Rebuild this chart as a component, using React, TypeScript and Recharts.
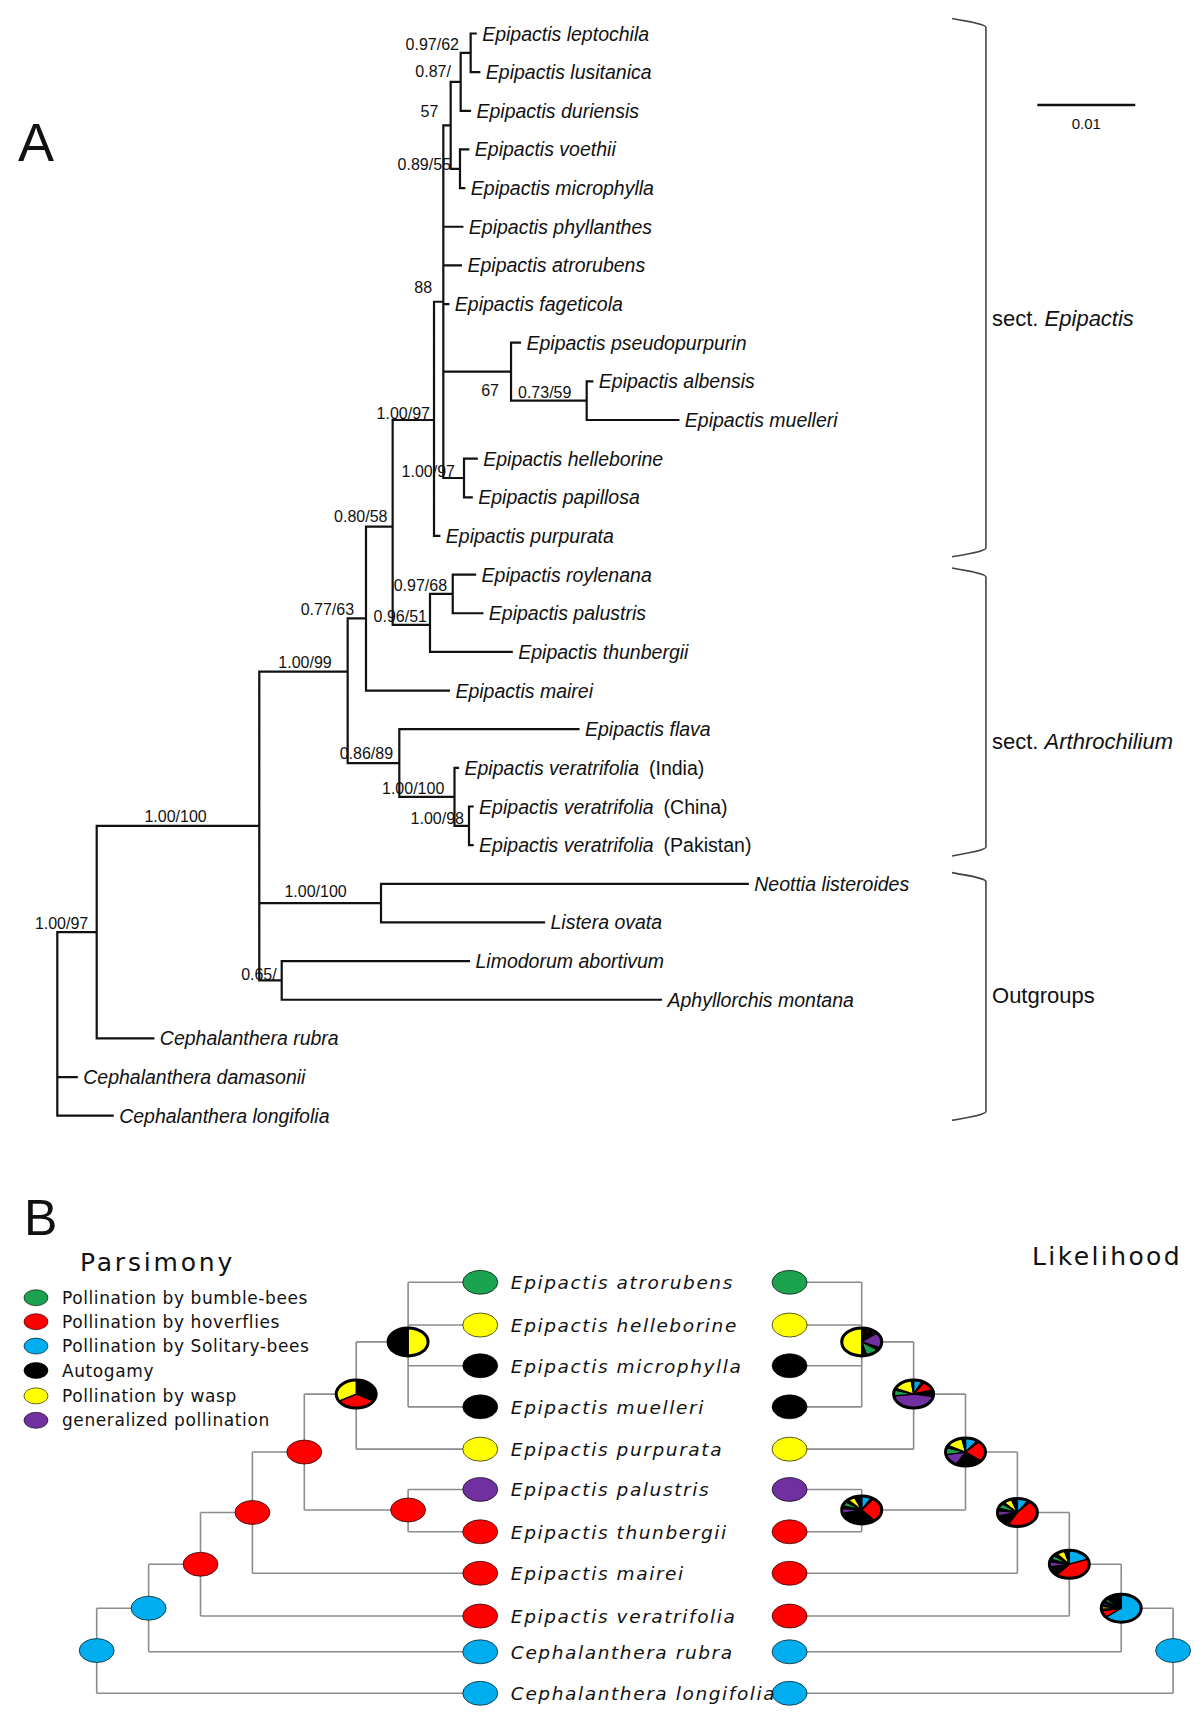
import React from "react";
import { ComposedChart, XAxis, YAxis, Line, Scatter } from "recharts";

// ---------- Panel A: phylogram ----------
const tipNames = [
  "Epipactis leptochila", "Epipactis lusitanica", "Epipactis duriensis", "Epipactis voethii",
  "Epipactis microphylla", "Epipactis phyllanthes", "Epipactis atrorubens", "Epipactis fageticola",
  "Epipactis pseudopurpurin", "Epipactis albensis", "Epipactis muelleri", "Epipactis helleborine",
  "Epipactis papillosa", "Epipactis purpurata", "Epipactis roylenana", "Epipactis palustris",
  "Epipactis thunbergii", "Epipactis mairei", "Epipactis flava", "Epipactis veratrifolia",
  "Epipactis veratrifolia", "Epipactis veratrifolia", "Neottia listeroides", "Listera ovata",
  "Limodorum abortivum", "Aphyllorchis montana", "Cephalanthera rubra", "Cephalanthera damasonii",
  "Cephalanthera longifolia",
];
const tipSuffix: Record<number, string> = { 19: "(India)", 20: "(China)", 21: "(Pakistan)" };
const tipParents = [
  "N14", "N14", "N13", "N15", "N15", "N9", "N9", "N9", "N11", "N16", "N16", "N12", "N12", "N6",
  "N8", "N8", "N7", "N4", "NF", "NV1", "NV2", "NV2", "NL", "NL", "NA", "NA", "N1", "root", "root",
];
// tip depth (substitutions/site)
const tipDepths = [
  0.04269, 0.04306, 0.04211, 0.04194, 0.04153, 0.04133, 0.04119, 0.0399, 0.04721, 0.05459,
  0.06337, 0.0428, 0.04229, 0.03898, 0.04263, 0.04337, 0.04637, 0.03996, 0.05318, 0.04089,
  0.04238, 0.04238, 0.07045, 0.04966, 0.04201, 0.0616, 0.0098, 0.00198, 0.00565,
];
const innerNodes = [
  { id: "N1", parent: "root", x: 0.00402, y: 23.25 },
  { id: "N2", parent: "N1", x: 0.02061, y: 20.5 },
  { id: "N3", parent: "N2", x: 0.02963, y: 16.51 },
  { id: "N4", parent: "N3", x: 0.0315, y: 15.13 },
  { id: "N5", parent: "N4", x: 0.03422, y: 12.76 },
  { id: "N6", parent: "N5", x: 0.03844, y: 10.0 },
  { id: "N9", parent: "N6", x: 0.03939, y: 6.94 },
  { id: "N10", parent: "N9", x: 0.04014, y: 2.375 },
  { id: "N13", parent: "N10", x: 0.04116, y: 1.25 },
  { id: "N14", parent: "N13", x: 0.04218, y: 0.5 },
  { id: "N15", parent: "N10", x: 0.04109, y: 3.5 },
  { id: "N11", parent: "N9", x: 0.0463, y: 8.75 },
  { id: "N16", parent: "N11", x: 0.05402, y: 9.5 },
  { id: "N12", parent: "N9", x: 0.0415, y: 11.5 },
  { id: "N7", parent: "N5", x: 0.03803, y: 15.3 },
  { id: "N8", parent: "N7", x: 0.04035, y: 14.5 },
  { id: "NF", parent: "N3", x: 0.0349, y: 18.875 },
  { id: "NV1", parent: "NF", x: 0.04053, y: 19.75 },
  { id: "NV2", parent: "NV1", x: 0.04201, y: 20.5 },
  { id: "NL", parent: "N2", x: 0.03303, y: 22.5 },
  { id: "NA", parent: "N2", x: 0.0229, y: 24.5 },
];
// support values: text end (or start) position in tree units
const supports = [
  { text: "0.97/62", x: 0.04099, y: 0.427 },
  { text: "0.87/", x: 0.04017, y: 1.126 },
  { text: "57", x: 0.03888, y: 2.173 },
  { text: "0.89/55", x: 0.04017, y: 3.532 },
  { text: "88", x: 0.03824, y: 6.714 },
  { text: "1.00/97", x: 0.03803, y: 9.974 },
  { text: "67", x: 0.04507, y: 9.379 },
  { text: "0.73/59", x: 0.04701, y: 9.43, start: true },
  { text: "1.00/97", x: 0.04058, y: 11.475 },
  { text: "0.80/58", x: 0.03369, y: 12.639 },
  { text: "0.97/68", x: 0.03977, y: 14.424 },
  { text: "0.96/51", x: 0.03772, y: 15.226 },
  { text: "0.77/63", x: 0.03028, y: 15.045 },
  { text: "1.00/99", x: 0.028, y: 16.416 },
  { text: "0.86/89", x: 0.03426, y: 18.771 },
  { text: "1.00/100", x: 0.03949, y: 19.664 },
  { text: "1.00/98", x: 0.0415, y: 20.453 },
  { text: "1.00/100", x: 0.01525, y: 20.388 },
  { text: "1.00/100", x: 0.02953, y: 22.354 },
  { text: "0.65/", x: 0.02239, y: 24.489 },
  { text: "1.00/97", x: 0.00316, y: 23.169 },
];
const clades = [
  { prefix: "sect. ", name: "Epipactis", top: -0.388, bottom: 13.54, labelRow: 7.36 },
  { prefix: "sect. ", name: "Arthrochilium", top: 13.83, bottom: 21.28, labelRow: 18.31 },
  { prefix: "", name: "Outgroups", top: 21.71, bottom: 28.12, labelRow: 24.87, plain: true },
];
const scaleBar = { from: 0.1, to: 0.11, row: 1.85, labelRow: 2.32, label: "0.01" };

// ---------- Panel B: pollination reconstruction ----------
const bLeafNames = [
  "Epipactis atrorubens", "Epipactis helleborine", "Epipactis microphylla", "Epipactis muelleri",
  "Epipactis purpurata", "Epipactis palustris", "Epipactis thunbergii", "Epipactis mairei",
  "Epipactis veratrifolia", "Cephalanthera rubra", "Cephalanthera longifolia",
];
const bLeafRows = [0, 1.04, 2.03, 3.03, 4.06, 5.04, 6.07, 7.08, 8.12, 8.99, 10];
const bLeafStates = ["bumble", "wasp", "auto", "auto", "wasp", "general", "hover", "hover", "hover", "solitary", "solitary"];
const bLeafParents = ["P1", "P1", "P1", "P1", "P2", "P4", "P4", "P5", "P6", "P7", "P8"];
const bNodes = [
  { id: "P1", parent: "P2", level: 6, row: 1.45 },
  { id: "P2", parent: "P3", level: 5, row: 2.72 },
  { id: "P3", parent: "P5", level: 4, row: 4.13 },
  { id: "P4", parent: "P3", level: 6, row: 5.54 },
  { id: "P5", parent: "P6", level: 3, row: 5.6 },
  { id: "P6", parent: "P7", level: 2, row: 6.86 },
  { id: "P7", parent: "P8", level: 1, row: 7.93 },
  { id: "P8", parent: null, level: 0, row: 8.96 },
];
const LEAF_LEVEL = 7.39;
const MIRROR = 20.74;

const stateColors: Record<string, string> = {
  bumble: "#1BA34F",
  hover: "#FF0000",
  solitary: "#00AEEF",
  auto: "#000000",
  wasp: "#FFFF00",
  general: "#7030A0",
};
const legendKeys = ["bumble", "hover", "solitary", "auto", "wasp", "general"];
const legendLabels = [
  "Pollination by bumble-bees", "Pollination by hoverflies", "Pollination by Solitary-bees",
  "Autogamy", "Pollination by wasp", "generalized pollination",
];
const legendRows = [0.375, 0.959, 1.552, 2.146, 2.764, 3.358];

// parsimony states at internal nodes
const parsP1 = [["wasp", 50], ["auto", 50]];
const parsP2 = [["auto", 1], ["hover", 1], ["wasp", 1]];
const parsStates: Record<string, any> = {
  P1: parsP1, P2: parsP2, P3: "hover", P4: "hover", P5: "hover", P6: "hover", P7: "solitary", P8: "solitary",
};
// likelihood proportions, clockwise from 12 o'clock
const mlL1 = [["auto", 5], ["hover", 2], ["auto", 7], ["general", 18], ["auto", 3], ["bumble", 11], ["auto", 4], ["wasp", 50]];
const mlL2 = [["solitary", 7], ["auto", 2], ["hover", 11], ["auto", 8], ["general", 45], ["bumble", 7], ["auto", 2], ["wasp", 16], ["auto", 2]];
const mlL3 = [["solitary", 10], ["auto", 2], ["hover", 24], ["auto", 22], ["general", 14], ["bumble", 8], ["auto", 3], ["wasp", 14], ["auto", 3]];
const mlL4 = [["solitary", 8], ["auto", 2], ["hover", 29], ["auto", 32], ["general", 6], ["auto", 3], ["bumble", 5], ["auto", 3], ["wasp", 6], ["auto", 6]];
const mlL5 = [["solitary", 9], ["auto", 2], ["hover", 47], ["auto", 13], ["general", 6], ["auto", 3], ["bumble", 6], ["auto", 2], ["wasp", 7], ["auto", 5]];
const mlL6 = [["solitary", 19], ["hover", 42], ["auto", 11], ["general", 6], ["auto", 3], ["bumble", 5], ["auto", 3], ["wasp", 7], ["auto", 4]];
const mlL7 = [["solitary", 64], ["hover", 8], ["auto", 2], ["wasp", 3], ["auto", 2], ["general", 3], ["auto", 2], ["bumble", 3], ["auto", 13]];
const mlStates: Record<string, any> = {
  P1: mlL1, P2: mlL2, P3: mlL3, P4: mlL4, P5: mlL5, P6: mlL6, P7: mlL7, P8: "solitary",
};

// ---------- geometry built from the data ----------
const A_W = 1200;
const A_H = 1150;
const A_X: [number, number] = [-0.005847, 0.116602];
const A_Y: [number, number] = [-0.86675, 28.887];
const B_H = 576;
const B_X: [number, number] = [-1.8632, 21.258];
const B_Y: [number, number] = [-3.219, 10.7956];

const nodeMap = new Map<string, any>();
nodeMap.set("root", { id: "root", x: 0 });
innerNodes.forEach((n) => nodeMap.set(n.id, n));
const tips = tipNames.map((name, i) => ({
  id: "t" + i, parent: tipParents[i], x: tipDepths[i], y: i, name, suffix: tipSuffix[i],
}));
const allA = [...innerNodes, ...tips];
const segA: any[] = [];
allA.forEach((n) => {
  const p = nodeMap.get(n.parent);
  segA.push({ x: p.x, y: n.y }, { x: n.x, y: n.y }, { x: n.x, y: null });
});
["root", ...innerNodes.map((n) => n.id)].forEach((id) => {
  const ys = allA.filter((n) => n.parent === id).map((n) => n.y);
  const x = nodeMap.get(id).x;
  segA.push({ x, y: Math.min(...ys) }, { x, y: Math.max(...ys) }, { x, y: null });
});
const BR_ARM = 0.0913;
const BR_BAR = 0.09476;
const bracketLines = clades.map((c) => [
  { x: BR_ARM, y: c.top },
  { x: BR_BAR, y: c.top + 0.23 },
  { x: BR_BAR, y: c.bottom - 0.23 },
  { x: BR_ARM, y: c.bottom },
]);
const cladeLabels = clades.map((c) => ({ ...c, x: 0.09538, y: c.labelRow }));

const bMap = new Map<string, any>();
bNodes.forEach((n) => bMap.set(n.id, n));
function sideX(level: number, mirror: boolean) {
  return mirror ? MIRROR - level : level;
}
function buildSegB(mirror: boolean) {
  const s: any[] = [];
  bNodes.forEach((n) => {
    if (n.parent) {
      const p = bMap.get(n.parent);
      s.push({ x: sideX(p.level, mirror), y: n.row }, { x: sideX(n.level, mirror), y: n.row }, { x: 0, y: null });
    }
    const kids = [
      ...bNodes.filter((k) => k.parent === n.id).map((k) => k.row),
      ...bLeafRows.filter((_, i) => bLeafParents[i] === n.id),
    ];
    const x = sideX(n.level, mirror);
    s.push({ x, y: Math.min(...kids) }, { x, y: Math.max(...kids) }, { x: 0, y: null });
  });
  bLeafRows.forEach((r, i) => {
    const p = bMap.get(bLeafParents[i]);
    s.push({ x: sideX(p.level, mirror), y: r }, { x: sideX(LEAF_LEVEL, mirror), y: r }, { x: 0, y: null });
  });
  return s;
}
const segParsimony = buildSegB(false);
const segLikelihood = buildSegB(true);
const bLeafMarks = [
  ...bLeafRows.map((r, i) => ({ x: LEAF_LEVEL, y: r, state: bLeafStates[i] })),
  ...bLeafRows.map((r, i) => ({ x: MIRROR - LEAF_LEVEL, y: r, state: bLeafStates[i] })),
];
const bLeafLabels = bLeafRows.map((r, i) => ({ x: 7.98, y: r, name: bLeafNames[i] }));
const bNodeMarks = [
  ...bNodes.map((n) => ({ x: n.level, y: n.row, state: parsStates[n.id] })),
  ...bNodes.map((n) => ({ x: MIRROR - n.level, y: n.row, state: mlStates[n.id] })),
];
const legendItems = legendKeys.map((k, i) => ({ x: -1.17, y: legendRows[i], state: k, label: legendLabels[i] }));

// ---------- shapes ----------
const SANS = "'Liberation Sans', Arial, sans-serif";
const WIDE = "'DejaVu Sans', Verdana, sans-serif";

function TipLabel({ cx, cy, payload }: any) {
  return (
    <text x={cx + 6.5} y={cy + 7} fontFamily={SANS} fontSize={19.5} fill="#111">
      <tspan fontStyle="italic">{payload.name}</tspan>
      {payload.suffix ? <tspan dx={10}>{payload.suffix}</tspan> : null}
    </text>
  );
}
function SupportLabel({ cx, cy, payload }: any) {
  return (
    <text x={cx} y={cy} textAnchor={payload.start ? "start" : "end"} fontFamily={SANS} fontSize={16} fill="#111">
      {payload.text}
    </text>
  );
}
function CladeLabel({ cx, cy, payload }: any) {
  return (
    <text x={cx} y={cy + 8} fontFamily={SANS} fontSize={22} fill="#111">
      {payload.prefix}
      {payload.plain ? payload.name : <tspan fontStyle="italic">{payload.name}</tspan>}
    </text>
  );
}
function PlainText({ cx, cy, payload }: any) {
  return (
    <text x={cx} y={cy + 5.5} textAnchor="middle" fontFamily={SANS} fontSize={15} fill="#111">
      {payload.label}
    </text>
  );
}
function wedge(cx: number, cy: number, rx: number, ry: number, a0: number, a1: number) {
  const x0 = cx + rx * Math.sin(a0);
  const y0 = cy - ry * Math.cos(a0);
  const x1 = cx + rx * Math.sin(a1);
  const y1 = cy - ry * Math.cos(a1);
  const large = a1 - a0 > Math.PI ? 1 : 0;
  return `M${cx},${cy} L${x0},${y0} A${rx},${ry} 0 ${large} 1 ${x1},${y1} Z`;
}
function StateMark({ cx, cy, payload }: any) {
  const st = payload.state;
  if (typeof st === "string") {
    return (
      <ellipse cx={cx} cy={cy} rx={17.5} ry={12} fill={stateColors[st]} stroke="rgba(0,0,0,0.65)" strokeWidth={1} />
    );
  }
  const rx = 20;
  const ry = 14;
  const total = st.reduce((a: number, s: any) => a + s[1], 0);
  let acc = 0;
  return (
    <g>
      {st.map((s: any, i: number) => {
        const a0 = (acc / total) * Math.PI * 2;
        acc += s[1];
        const a1 = (acc / total) * Math.PI * 2;
        return <path key={i} d={wedge(cx, cy, rx, ry, a0, a1)} fill={stateColors[s[0]]} stroke="#000" strokeWidth={1.3} strokeLinejoin="round" />;
      })}
      <ellipse cx={cx} cy={cy} rx={rx} ry={ry} fill="none" stroke="#000" strokeWidth={3} />
    </g>
  );
}
function BLeafLabel({ cx, cy, payload }: any) {
  return (
    <text x={cx} y={cy + 7} fontFamily={WIDE} fontSize={18.5} fontStyle="italic" letterSpacing={1.6} fill="#111">
      {payload.name}
    </text>
  );
}
function LegendItem({ cx, cy, payload }: any) {
  return (
    <g>
      <ellipse cx={cx} cy={cy} rx={12} ry={8} fill={stateColors[payload.state]} stroke="rgba(0,0,0,0.6)" strokeWidth={1} />
      <text x={cx + 26} y={cy + 6} fontFamily={WIDE} fontSize={17} letterSpacing={0.6} fill="#111">
        {payload.label}
      </text>
    </g>
  );
}

const abs = (left: number, top: number): React.CSSProperties => ({ position: "absolute", left, top });

export default function App() {
  return (
    <div style={{ position: "absolute", left: 0, top: 0, width: 1200, height: 1726, background: "#fff", overflow: "hidden" }}>
      <div style={{ ...abs(18, 115), fontFamily: SANS, fontSize: 54, lineHeight: 1, color: "#111" }}>A</div>
      <div style={{ ...abs(24, 1193), fontFamily: SANS, fontSize: 50, lineHeight: 1, color: "#111" }}>B</div>
      <div style={{ ...abs(80, 1250), fontFamily: WIDE, fontSize: 25, lineHeight: 1, letterSpacing: 2.8, color: "#111" }}>Parsimony</div>
      <div style={{ ...abs(1032, 1244), fontFamily: WIDE, fontSize: 25, lineHeight: 1, letterSpacing: 2.4, color: "#111" }}>Likelihood</div>

      <div style={abs(0, 0)}>
        <ComposedChart width={A_W} height={A_H} margin={{ top: 0, right: 0, bottom: 0, left: 0 }}>
          <XAxis type="number" dataKey="x" domain={A_X} hide allowDataOverflow />
          <YAxis type="number" dataKey="y" domain={A_Y} reversed hide allowDataOverflow />
          <Line data={segA} dataKey="y" stroke="#111" strokeWidth={2.2} strokeLinecap="square" dot={false} activeDot={false} connectNulls={false} isAnimationActive={false} />
          {bracketLines.map((d, i) => (
            <Line key={"br" + i} data={d} dataKey="y" type="monotoneY" stroke="#444" strokeWidth={1.6} dot={false} activeDot={false} isAnimationActive={false} />
          ))}
          <Line
            data={[{ x: scaleBar.from, y: scaleBar.row }, { x: scaleBar.to, y: scaleBar.row }]}
            dataKey="y" stroke="#111" strokeWidth={2.5} dot={false} activeDot={false} isAnimationActive={false}
          />
          <Scatter data={tips} isAnimationActive={false} shape={(p: any) => <TipLabel {...p} />} />
          <Scatter data={supports} isAnimationActive={false} shape={(p: any) => <SupportLabel {...p} />} />
          <Scatter data={cladeLabels} isAnimationActive={false} shape={(p: any) => <CladeLabel {...p} />} />
          <Scatter
            data={[{ x: (scaleBar.from + scaleBar.to) / 2, y: scaleBar.labelRow, label: scaleBar.label }]}
            isAnimationActive={false}
            shape={(p: any) => <PlainText {...p} />}
          />
        </ComposedChart>
      </div>

      <div style={abs(0, A_H)}>
        <ComposedChart width={A_W} height={B_H} margin={{ top: 0, right: 0, bottom: 0, left: 0 }}>
          <XAxis type="number" dataKey="x" domain={B_X} hide allowDataOverflow />
          <YAxis type="number" dataKey="y" domain={B_Y} reversed hide allowDataOverflow />
          <Line data={segParsimony} dataKey="y" stroke="#8C8C8C" strokeWidth={1.6} dot={false} activeDot={false} connectNulls={false} isAnimationActive={false} />
          <Line data={segLikelihood} dataKey="y" stroke="#8C8C8C" strokeWidth={1.6} dot={false} activeDot={false} connectNulls={false} isAnimationActive={false} />
          <Scatter data={bLeafMarks} isAnimationActive={false} shape={(p: any) => <StateMark {...p} />} />
          <Scatter data={bNodeMarks} isAnimationActive={false} shape={(p: any) => <StateMark {...p} />} />
          <Scatter data={bLeafLabels} isAnimationActive={false} shape={(p: any) => <BLeafLabel {...p} />} />
          <Scatter data={legendItems} isAnimationActive={false} shape={(p: any) => <LegendItem {...p} />} />
        </ComposedChart>
      </div>
    </div>
  );
}
